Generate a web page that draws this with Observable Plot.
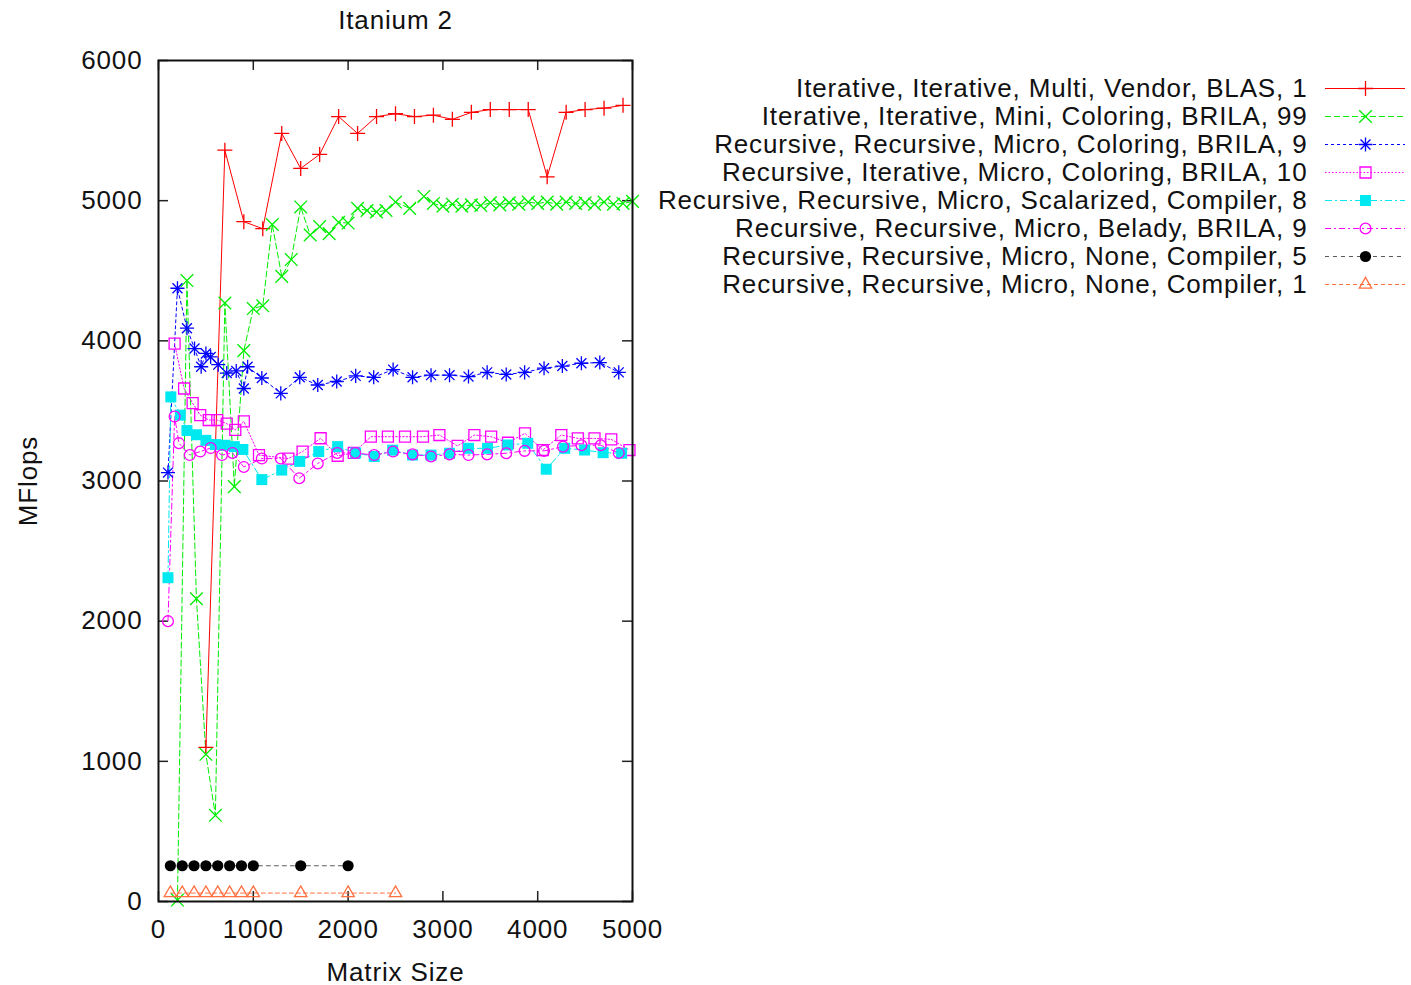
<!DOCTYPE html>
<html><head><meta charset="utf-8">
<script src="https://cdn.jsdelivr.net/npm/d3@7"></script>
<script src="https://cdn.jsdelivr.net/npm/@observablehq/plot@0.6"></script>
<style>
body{margin:0;background:#fff;}
#wrap{position:relative;width:1411px;height:985px;}
#wrap svg{position:absolute;left:0;top:0;overflow:visible;}
#wrap svg text{letter-spacing:0.85px;}
</style>
</head><body><div id="wrap"></div>
<script>
// ---- tick labels ----
const xTicks = [0, 1000, 2000, 3000, 4000, 5000];
const yTicks = [0, 1000, 2000, 3000, 4000, 5000, 6000];
const chartTitle = "Itanium 2";
const xLabel = "Matrix Size";
const yLabel = "MFlops";

// ---- series labels ----
const labels = [
  "Iterative, Iterative, Multi, Vendor, BLAS, 1",
  "Iterative, Iterative, Mini, Coloring, BRILA, 99",
  "Recursive, Recursive, Micro, Coloring, BRILA, 9",
  "Recursive, Iterative, Micro, Coloring, BRILA, 10",
  "Recursive, Recursive, Micro, Scalarized, Compiler, 8",
  "Recursive, Recursive, Micro, Belady, BRILA, 9",
  "Recursive, Recursive, Micro, None, Compiler, 5",
  "Recursive, Recursive, Micro, None, Compiler, 1"
];

// ---- series values ----
const sizes1 = [500,700,900,1100,1300,1500,1700,1900,2100,2300,2500,2700,2900,3100,3300,3500,3700,3900,4100,4300,4500,4700,4900];
const mflops1 = [1100,5360,4850,4800,5480,5230,5330,5600,5480,5600,5620,5600,5610,5580,5630,5650,5650,5650,5170,5630,5650,5660,5680];

const sizes2 = [200,300,400,500,600,700,800,900,1000,1100,1200,1300,1400,1500,1600,1700,1800,1900,2000,2100,2200,2300,2400,2500,2650,2800,2900,3000,3100,3200,3300,3400,3500,3600,3700,3800,3900,4000,4100,4200,4300,4400,4500,4600,4700,4800,4900,5000];
const mflops2 = [10,4430,2160,1050,615,4270,2960,3930,4230,4250,4830,4460,4580,4955,4755,4815,4765,4845,4840,4945,4930,4920,4930,4990,4945,5030,4980,4960,4975,4960,4970,4965,4985,4970,4985,4975,4990,4980,4990,4975,4990,4980,4985,4975,4990,4975,4980,4995];

const sizes3 = [100,200,300,380,450,500,550,630,720,820,900,940,1090,1290,1490,1680,1880,2080,2270,2475,2680,2875,3070,3270,3467,3668,3862,4067,4260,4461,4655,4855];
const mflops3 = [3060,4375,4090,3945,3815,3910,3885,3830,3770,3785,3660,3815,3735,3625,3740,3685,3710,3750,3740,3795,3740,3755,3755,3745,3775,3760,3775,3805,3820,3840,3845,3775];

const sizes4 = [170,270,360,440,530,620,720,810,900,1060,1370,1520,1710,1890,2060,2240,2420,2600,2790,2963,3155,3332,3509,3686,3866,4053,4249,4423,4599,4776,4968];
const mflops4 = [3980,3660,3555,3470,3435,3435,3410,3365,3425,3185,3160,3210,3305,3180,3200,3316,3316,3316,3316,3328,3250,3328,3316,3273,3340,3221,3328,3304,3304,3297,3221];

const sizes5 = [100,130,230,300,400,500,600,700,800,890,1090,1300,1490,1690,1890,2080,2275,2470,2680,2875,3070,3270,3470,3685,3895,4090,4285,4495,4690,4885];
const mflops5 = [2310,3600,3470,3360,3330,3290,3260,3255,3245,3225,3010,3078,3140,3210,3245,3200,3175,3220,3185,3185,3198,3233,3233,3257,3269,3084,3233,3221,3202,3198];

const sizes6 = [100,170,215,330,440,550,670,780,900,1090,1290,1485,1680,1885,2075,2275,2475,2680,2875,3070,3270,3467,3668,3862,4067,4267,4461,4665,4855];
const mflops6 = [2000,3460,3270,3185,3210,3235,3185,3200,3100,3160,3160,3020,3125,3200,3200,3185,3210,3190,3175,3190,3185,3190,3198,3215,3215,3245,3255,3255,3200];

const sizes7 = [125,250,375,500,625,750,875,1000,1500,2000];
const mflops7 = [255,255,255,255,255,255,255,255,255,255];

const sizes8 = [125,250,375,500,625,750,875,1000,1500,2000,2500];
const mflops8 = [60,60,60,60,60,60,60,60,60,60,60];

// ---- styles ----
const styles = [
  {color:"#ff0000", dash:null,        symbols:["plus"],          r:4.9, fill:"none", lineOpacity:1},
  {color:"#00ee00", dash:"6,3",       symbols:["times"],         r:5.8, fill:"none", lineOpacity:1},
  {color:"#0000ff", dash:"3,3",       symbols:["plus","times"],  r:4.6, fill:"none", lineOpacity:1},
  {color:"#ff00ff", dash:"1.5,2",     symbols:["square"],        r:6.2, fill:"none", lineOpacity:1},
  {color:"#00e8f0", dash:"7,3,2,3",   symbols:["square"],        r:6.2, fill:"#00e8f0", lineOpacity:1},
  {color:"#ff00ff", dash:"6,3,2,3",   symbols:["circle"],        r:5.4, fill:"none", lineOpacity:1},
  {color:"#000000", dash:"4,4",       symbols:["circle"],        r:5.6, fill:"#000000", lineOpacity:0.65},
  {color:"#ff7040", dash:"4,3",       symbols:["triangle"],      r:4.6, fill:"none", lineOpacity:1}
];

const allSizes = [sizes1,sizes2,sizes3,sizes4,sizes5,sizes6,sizes7,sizes8];
const allMflops = [mflops1,mflops2,mflops3,mflops4,mflops5,mflops6,mflops7,mflops8];

const series = labels.map((label, i) => ({
  label, ...styles[i],
  rows: allSizes[i].map((s, j) => ({size: s, mflops: allMflops[i][j]}))
}));

const FONT = "Liberation Sans, Arial, sans-serif";
const FS = 26;

// plot geometry
const W = 700, H = 985, ML = 158, MR = 68, MT = 60, MB = 84;
const tickPx = 10;
const tlx = tickPx * 5000 / (W - ML - MR);
const tly = tickPx * 6000 / (H - MT - MB);

const marks = [];
// inward ticks on all four sides
marks.push(Plot.ruleX(xTicks, {x: d => d, y1: 0, y2: tly, stroke: "#222", strokeWidth: 1.5}));
marks.push(Plot.ruleX(xTicks, {x: d => d, y1: 6000 - tly, y2: 6000, stroke: "#222", strokeWidth: 1.5}));
marks.push(Plot.ruleY(yTicks, {y: d => d, x1: 0, x2: tlx, stroke: "#222", strokeWidth: 1.5}));
marks.push(Plot.ruleY(yTicks, {y: d => d, x1: 5000 - tlx, x2: 5000, stroke: "#222", strokeWidth: 1.5}));

for (const s of series) {
  marks.push(Plot.line(s.rows, {x: "size", y: "mflops", stroke: s.color, strokeOpacity: s.lineOpacity, strokeWidth: 1, strokeDasharray: s.dash ?? undefined}));
}
for (const s of series) {
  for (const sym of s.symbols) {
    const filled = s.fill !== "none";
    marks.push(Plot.dot(s.rows, {x: "size", y: "mflops", symbol: () => sym, r: s.r,
      stroke: filled ? "none" : s.color, fill: filled ? s.fill : "none", strokeWidth: 1.3}));
  }
}

marks.push(Plot.frame({stroke: "#111", strokeWidth: 2}));
marks.push(Plot.axisX(xTicks, {tickSize: 0, tickPadding: 18, tickFormat: d => String(d), label: null, fontSize: FS, fill: "#111"}));
marks.push(Plot.axisY(yTicks, {tickSize: 0, tickPadding: 16, tickFormat: d => String(d), label: null, fontSize: FS, fill: "#111"}));
marks.push(Plot.text([chartTitle], {frameAnchor: "top", lineAnchor: "middle", dy: -40, fontSize: FS, fill: "#111"}));
marks.push(Plot.text([xLabel], {frameAnchor: "bottom", lineAnchor: "middle", dy: 71, fontSize: FS, fill: "#111"}));
marks.push(Plot.text([yLabel], {frameAnchor: "left", textAnchor: "middle", lineAnchor: "middle", dx: -130, rotate: -90, fontSize: FS, fill: "#111"}));

const chart = Plot.plot({
  width: W, height: H, marginLeft: ML, marginRight: MR, marginTop: MT, marginBottom: MB,
  x: {domain: [0, 5000], axis: null},
  y: {domain: [0, 6000], axis: null},
  style: {fontFamily: FONT, background: "transparent"},
  marks
});

// ---- legend (separate Plot overlay) ----
const legMarks = [];
legMarks.push(Plot.text(series, {x: 1307, y: "label", text: "label", textAnchor: "end", fontSize: FS, fill: "#111"}));
for (const s of series) {
  legMarks.push(Plot.ruleY([s], {y: "label", x1: 1325, x2: 1405, stroke: s.color, strokeOpacity: s.lineOpacity, strokeWidth: 1, strokeDasharray: s.dash ?? undefined}));
  for (const sym of s.symbols) {
    const filled = s.fill !== "none";
    legMarks.push(Plot.dot([s], {x: 1365, y: "label", symbol: () => sym, r: s.r,
      stroke: filled ? "none" : s.color, fill: filled ? s.fill : "none", strokeWidth: 1.3}));
  }
}
const legend = Plot.plot({
  width: 1411, height: 320, margin: 0,
  x: {type: "identity", axis: null},
  y: {type: "point", domain: labels, range: [88, 284], padding: 0, axis: null},
  style: {fontFamily: FONT, background: "transparent"},
  marks: legMarks
});

const wrap = document.getElementById("wrap");
wrap.appendChild(chart);
wrap.appendChild(legend);
</script>
</body></html>
